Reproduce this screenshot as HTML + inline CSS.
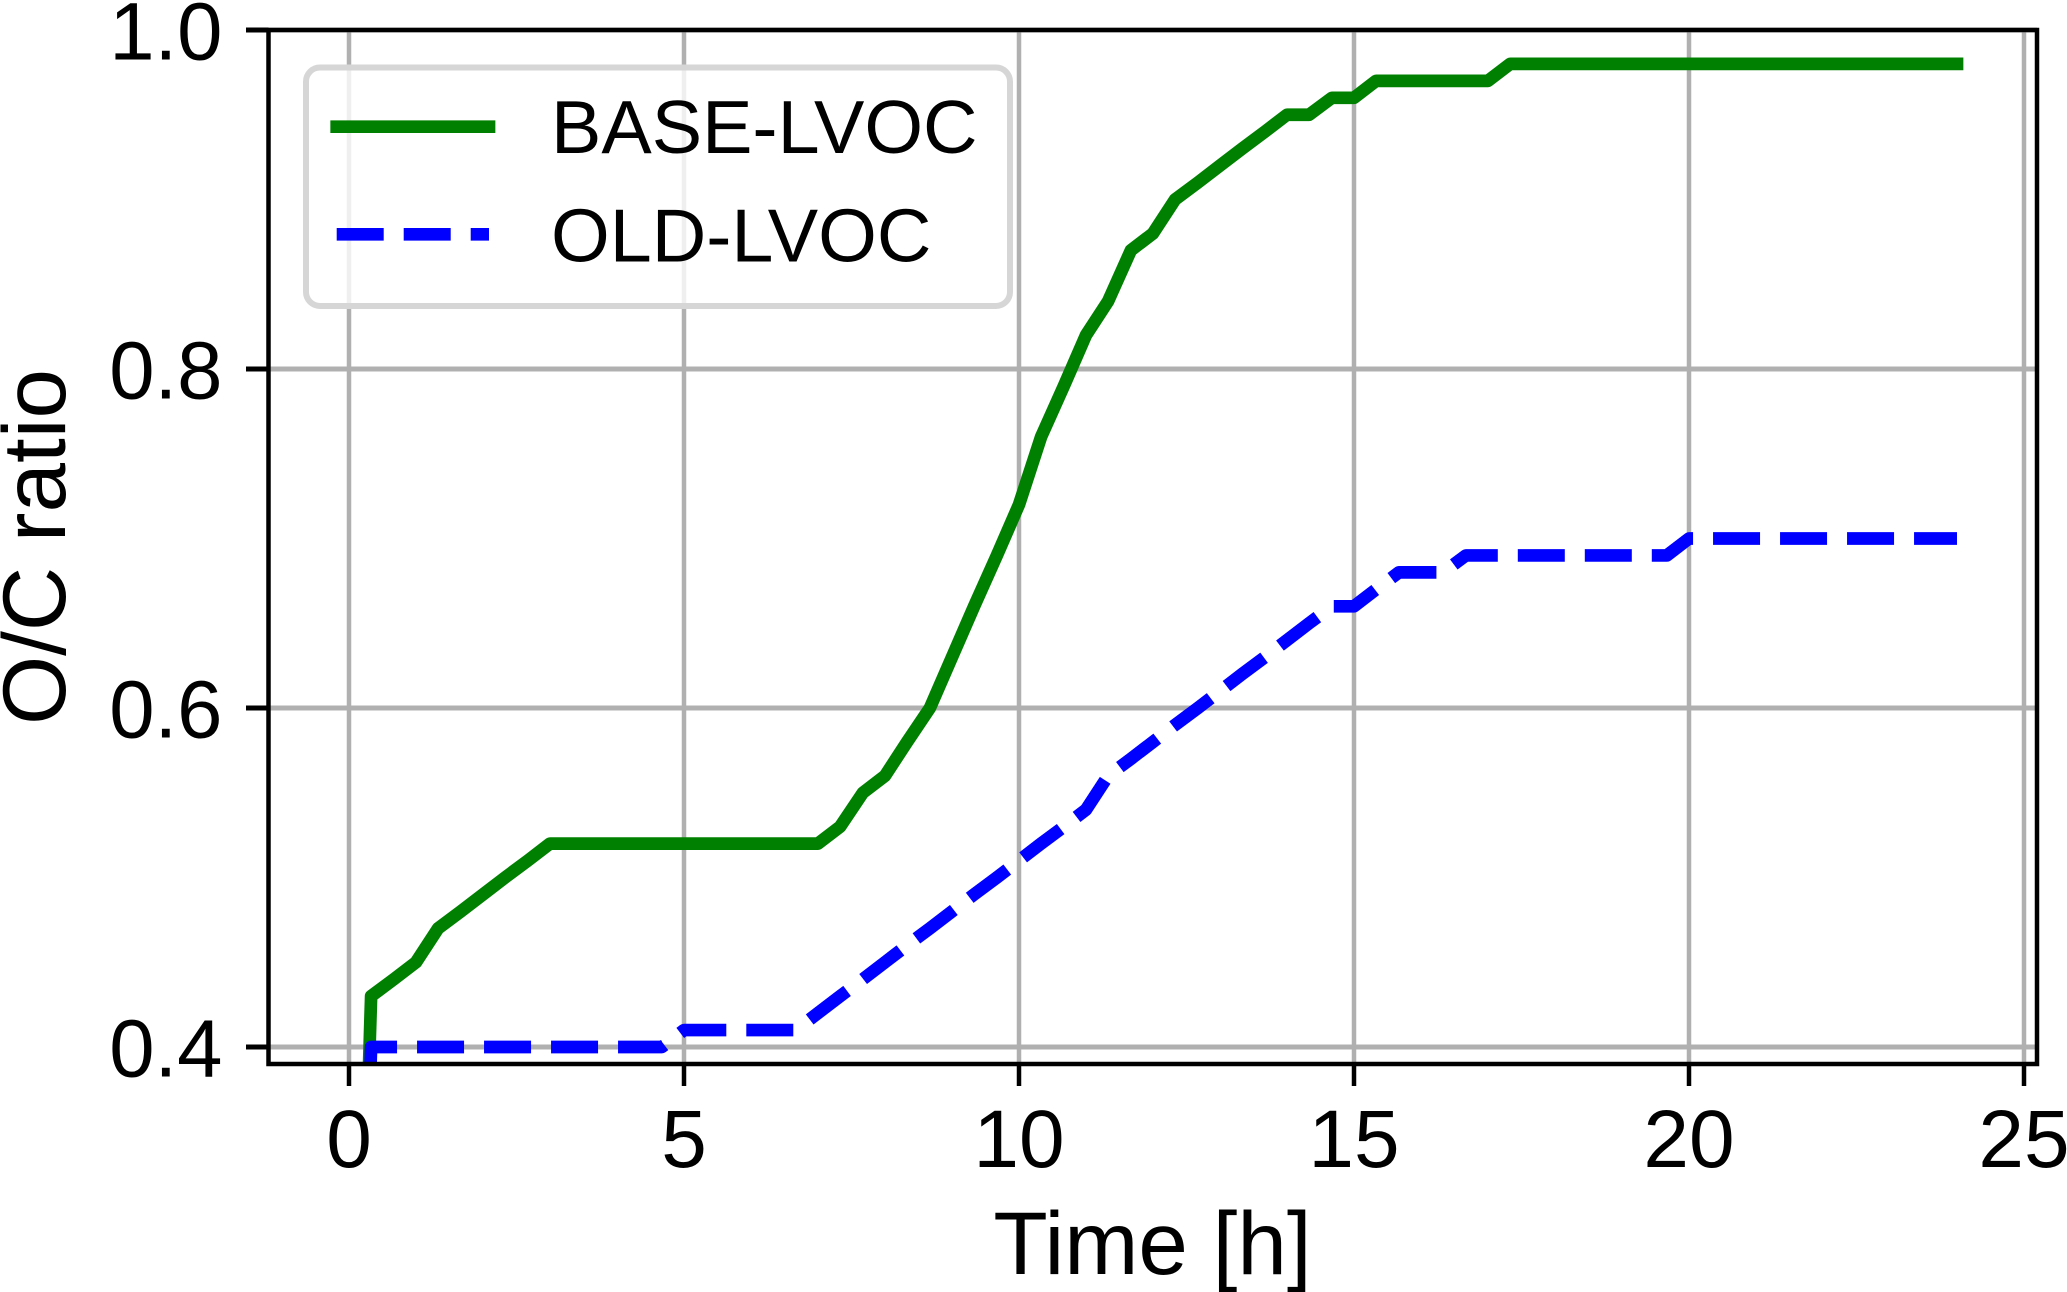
<!DOCTYPE html>
<html lang="en">
<head>
<meta charset="utf-8">
<title>O/C ratio over time</title>
<style>
html,body{margin:0;padding:0;background:#fff;width:2067px;height:1292px;overflow:hidden}
svg{display:block}
text{font-family:"Liberation Sans",Arial,sans-serif;fill:#000}
</style>
</head>
<body>
<svg id="chart" xmlns="http://www.w3.org/2000/svg" width="2067" height="1292" viewBox="0 0 2067 1292">
  <rect x="0" y="0" width="2067" height="1292" fill="#fff"/>
  <defs>
    <clipPath id="plot-clip"><rect x="268.5" y="30" width="1768.5" height="1034"/></clipPath>
  </defs>
  <g id="grid"></g>
  <g id="series" clip-path="url(#plot-clip)"></g>
  <g>
    <rect x="306" y="67.5" width="704" height="238.5" rx="14" ry="14" fill="#fff" fill-opacity="0.8" stroke="#d6d6d6" stroke-width="6"/>
    <line x1="336.7" y1="126.7" x2="489" y2="126.7" stroke="#008000" stroke-width="12.7" stroke-linecap="square"/>
    <text x="551" y="153" font-size="75.5">BASE-LVOC</text>
    <line x1="336.7" y1="234.3" x2="489" y2="234.3" stroke="#0000ff" stroke-width="12.7" stroke-dasharray="47 20"/>
    <text x="551" y="261.5" font-size="75.5">OLD-LVOC</text>
  </g>
  <g id="axes"></g>
  <text x="1152.5" y="1274" font-size="89" text-anchor="middle">Time [h]</text>
  <text x="0" y="0" font-size="89" text-anchor="middle" transform="translate(65 547) rotate(-90)">O/C ratio</text>
</svg>
<script>
const xTickValues = [0, 5, 10, 15, 20, 25];
const xTickLabels = ["0", "5", "10", "15", "20", "25"];
const yTickValues = [0.4, 0.6, 0.8, 1.0];
const yTickLabels = ["0.4", "0.6", "0.8", "1.0"];
const timeHours = [0, 0.33, 0.67, 1, 1.33, 1.67, 2, 2.33, 2.67, 3, 3.33, 3.67, 4, 4.33, 4.67, 5, 5.33, 5.67, 6, 6.33, 6.67, 7, 7.33, 7.67, 8, 8.33, 8.67, 9, 9.33, 9.67, 10, 10.33, 10.67, 11, 11.33, 11.67, 12, 12.33, 12.67, 13, 13.33, 13.67, 14, 14.33, 14.67, 15, 15.33, 15.67, 16, 16.33, 16.67, 17, 17.33, 17.67, 18, 18.33, 18.67, 19, 19.33, 19.67, 20, 20.33, 20.67, 21, 21.33, 21.67, 22, 22.33, 22.67, 23, 23.33, 23.67, 24];
const baseLvoc = [0, 0.43, 0.44, 0.45, 0.47, 0.48, 0.49, 0.50, 0.51, 0.52, 0.52, 0.52, 0.52, 0.52, 0.52, 0.52, 0.52, 0.52, 0.52, 0.52, 0.52, 0.52, 0.53, 0.55, 0.56, 0.58, 0.60, 0.63, 0.66, 0.69, 0.72, 0.76, 0.79, 0.82, 0.84, 0.87, 0.88, 0.90, 0.91, 0.92, 0.93, 0.94, 0.95, 0.95, 0.96, 0.96, 0.97, 0.97, 0.97, 0.97, 0.97, 0.97, 0.98, 0.98, 0.98, 0.98, 0.98, 0.98, 0.98, 0.98, 0.98, 0.98, 0.98, 0.98, 0.98, 0.98, 0.98, 0.98, 0.98, 0.98, 0.98, 0.98, 0.98];
const oldLvoc = [0, 0.40, 0.40, 0.40, 0.40, 0.40, 0.40, 0.40, 0.40, 0.40, 0.40, 0.40, 0.40, 0.40, 0.40, 0.41, 0.41, 0.41, 0.41, 0.41, 0.41, 0.42, 0.43, 0.44, 0.45, 0.46, 0.47, 0.48, 0.49, 0.50, 0.51, 0.52, 0.53, 0.54, 0.56, 0.57, 0.58, 0.59, 0.60, 0.61, 0.62, 0.63, 0.64, 0.65, 0.66, 0.66, 0.67, 0.68, 0.68, 0.68, 0.69, 0.69, 0.69, 0.69, 0.69, 0.69, 0.69, 0.69, 0.69, 0.69, 0.70, 0.70, 0.70, 0.70, 0.70, 0.70, 0.70, 0.70, 0.70, 0.70, 0.70, 0.70, 0.70];

const SVGNS = "http://www.w3.org/2000/svg";
const plotLeft = 268.5, plotRight = 2037, plotTop = 30, plotBottom = 1064;
function xScale(t) { return 349 + 67.0 * t; }
function yScale(v) { return 30 + (1 - v) * 1695; }
function make(tag, attrs, parent) {
  const el = document.createElementNS(SVGNS, tag);
  for (const k in attrs) el.setAttribute(k, attrs[k]);
  parent.appendChild(el);
  return el;
}
const gridG = document.getElementById("grid");
const seriesG = document.getElementById("series");
const axesG = document.getElementById("axes");

xTickValues.forEach(function (v, i) {
  const x = xScale(v);
  const g = make("line", {x1: x, y1: plotTop, x2: x, y2: plotBottom, stroke: "#b0b0b0", "stroke-width": 4.5}, gridG);
  
  
  const t = make("line", {x1: x, y1: plotBottom, x2: x, y2: 1086, stroke: "#000", "stroke-width": 4.5}, axesG);
  
  
  const l = make("text", {x: x, y: 1167, "font-size": 82, "text-anchor": "middle"}, axesG);
  
  
  l.textContent = xTickLabels[i];
});
yTickValues.forEach(function (v, i) {
  const y = yScale(v);
  const g = make("line", {x1: plotLeft, y1: y, x2: plotRight, y2: y, stroke: "#b0b0b0", "stroke-width": 5}, gridG);
  
  
  const t = make("line", {x1: 246, y1: y, x2: plotLeft, y2: y, stroke: "#000", "stroke-width": 5}, axesG);
  
  
  const l = make("text", {x: 222.5, y: y + 29.5, "font-size": 81.5, "text-anchor": "end"}, axesG);
  
  
  l.textContent = yTickLabels[i];
});

function pathFrom(values) {
  return values.map(function (v, i) {
    return (i ? "L" : "M") + xScale(timeHours[i]).toFixed(2) + " " + yScale(v).toFixed(2);
  }).join(" ");
}
const baseLine = make("path", {d: pathFrom(baseLvoc), fill: "none", stroke: "#008000", "stroke-width": 12.7, "stroke-linejoin": "round", "stroke-linecap": "square"}, seriesG);


const oldLine = make("path", {d: pathFrom(oldLvoc), fill: "none", stroke: "#0000ff", "stroke-width": 12.7, "stroke-linejoin": "round", "stroke-dasharray": "47 20", "stroke-dashoffset": 12.7}, seriesG);



const spine = make("rect", {x: plotLeft, y: plotTop, width: plotRight - plotLeft, height: plotBottom - plotTop, fill: "none", stroke: "#000", "stroke-width": 4.5}, axesG);


</script>
</body>
</html>
